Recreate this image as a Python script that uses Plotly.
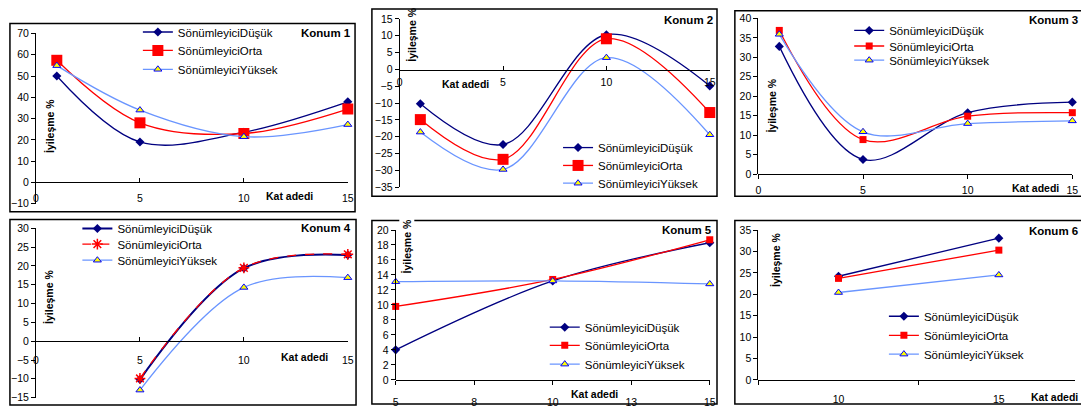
import plotly.graph_objects as go

W, H = 1081, 414

# ---------------- data ----------------
names = ["SönümleyiciDüşük", "SönümleyiciOrta", "SönümleyiciYüksek"]
x_kat = [1, 5, 10, 15]
x_kat4 = [5, 10, 15]
x_kat5 = [5, 10, 15]
x_kat6 = ["10", "15"]

p1_dusuk = [50, 19, 23.6, 37.9]
p1_orta = [57.4, 28, 23, 34.5]
p1_yuksek = [54.9, 34, 21.5, 27.2]

p2_dusuk = [-10.2, -22.3, 10.3, -4.9]
p2_orta = [-14.9, -26.7, 9.1, -12.8]
p2_yuksek = [-18.6, -29.7, 3.5, -19.4]

p3_dusuk = [32.8, 3.8, 15.8, 18.5]
p3_orta = [36.9, 8.9, 14.9, 15.8]
p3_yuksek = [35.9, 10.9, 13.0, 13.7]

p4_dusuk = [-10.2, 19.4, 22.9]
p4_orta = [-9.9, 19.5, 23.1]
p4_yuksek = [-13.0, 14.3, 16.9]

p5_dusuk = [4.0, 13.2, 18.3]
p5_orta = [9.8, 13.4, 18.7]
p5_yuksek = [13.1, 13.2, 12.8]

p6_dusuk = [24.2, 33.1]
p6_orta = [23.7, 30.3]
p6_yuksek = [20.4, 24.5]

x_title = "Kat adedi"
y_title = "İyileşme %"

# ---------------- helpers ----------------
def fx(px):
    return px / W

def fy(py):
    return 1 - py / H

FONT = "Arial, Liberation Sans, sans-serif"
NAVY = "#000080"
RED = "#FF0000"
BLUE = "#6A95FF"

fig = go.Figure()

# panel geometry in pixels
panels = [
    dict(xr=[0, 15], xpx=[33.3, 347.7], yr=[-10, 70], ypx=[203.6, 28.3], axis_py=181.7, dtick=10, xticks="inside", so=6),
    dict(xr=[0, 15], xpx=[400, 712.7], yr=[-35, 15], ypx=[186.7, 13.3], axis_py=65.5, dtick=5, xticks="inside", so=3),
    dict(xr=[0, 15], xpx=[761.7, 1078.3], yr=[0, 40], ypx=[173.3, 12.7], axis_py=173.3, dtick=5, xticks="outside", so=2),
    dict(xr=[0, 15], xpx=[33.3, 347.7], yr=[-15, 30], ypx=[403.3, 229], axis_py=345, dtick=5, xticks="inside", so=9),
    dict(xr=[5, 15], xpx=[396, 712.7], yr=[0, 20], ypx=[385, 230.7], axis_py=385, dtick=2, xticks="outside", so=9),
    dict(xr=[-0.5, 1.475], xpx=[761.7, 1081], yr=[0, 35], ypx=[385, 230.7], axis_py=385, dtick=5, xticks="outside", so=10),
]

layout_axes = {}
for i, p in enumerate(panels, start=1):
    xs = "" if i == 1 else str(i)
    xa = dict(
        domain=[fx(p["xpx"][0]), fx(p["xpx"][1])],
        range=p["xr"],
        anchor="free",
        position=fy(p["axis_py"]),
        showline=True, linecolor="black", linewidth=1,
        ticks=p["xticks"], ticklen=4, tickcolor="black", tickwidth=1,
        ticklabelstandoff=p["so"],
        showgrid=False, zeroline=False,
        tickfont=dict(family=FONT, size=10.5, color="black"),
    )
    if i in (1, 2, 3, 4):
        xa.update(tickvals=[0, 5, 10, 15], ticktext=["0", "5", "10", "15"])
    if i == 5:
        xa.update(tickvals=[5, 7.5, 10, 12.5, 15], ticktext=["5", "8", "10", "13", "15"])
    if i == 6:
        xa.update(type="category", tickson="boundaries", categoryorder="array", categoryarray=x_kat6)
    ya = dict(
        domain=[fy(p["ypx"][0]), fy(p["ypx"][1])],
        range=p["yr"],
        anchor="x" + xs,
        showline=True, linecolor="black", linewidth=1,
        ticks="outside", ticklen=4, tickcolor="black", tickwidth=1,
        showgrid=False, zeroline=False, dtick=p["dtick"], tick0=0,
        tickfont=dict(family=FONT, size=10.5, color="black"),
    )
    layout_axes["xaxis" + xs] = xa
    layout_axes["yaxis" + xs] = ya

# legend item positions (text start x, centre y) in pixels
leg_pos = {
    1: (177, [28.3, 47.3, 66.7]),
    2: (600.7, [147.3, 165.7, 184]),
    3: (894.3, [26.7, 42.7, 57.3]),
    4: (116, [230.7, 246.7, 263.3]),
    5: (587.3, [332.3, 351, 370.3]),
    6: (929.3, [321, 340.7, 360]),
}

legends = {}
leg_counter = [0]

def new_legend(panel, k):
    leg_counter[0] += 1
    n = leg_counter[0]
    key = "legend" if n == 1 else "legend%d" % n
    tx, ys = leg_pos[panel]
    legends[key] = dict(
        x=fx(tx - 41), xanchor="left", y=fy(ys[k] - 1.5), yanchor="middle",
        bgcolor="rgba(0,0,0,0)", borderwidth=0,
        font=dict(family=FONT, size=11.5, color="black"),
        itemclick=False, itemdoubleclick=False,
    )
    return key

def add(panel, x, y, k, shape="spline", big_square=False, dashed=False, asterisk=False, thick=False):
    xs = "" if panel == 1 else str(panel)
    if k == 0:
        line = dict(color=NAVY, width=2 if thick else 1.3, shape=shape, smoothing=1)
        marker = dict(symbol="diamond", size=7, color=NAVY)
    elif k == 1:
        line = dict(color=RED, width=1.3, shape=shape, smoothing=1, dash="dash" if dashed else "solid")
        if asterisk:
            marker = dict(symbol="asterisk-open", size=9, color=RED, line=dict(color=RED, width=1.5))
        else:
            marker = dict(symbol="square", size=11 if big_square else 7, color=RED)
    else:
        line = dict(color=BLUE, width=1.3, shape=shape, smoothing=1)
        marker = dict(symbol="triangle-up", size=7, color="#FFFF00", line=dict(color="#0000FF", width=1))
    fig.add_trace(go.Scatter(
        x=x, y=y, name=names[k], mode="lines+markers", line=line, marker=marker,
        xaxis="x" + xs, yaxis="y" + xs, legend=new_legend(panel, k), cliponaxis=False,
    ))

for k, ys in enumerate([p1_dusuk, p1_orta, p1_yuksek]):
    add(1, x_kat, ys, k, big_square=True)
for k, ys in enumerate([p2_dusuk, p2_orta, p2_yuksek]):
    add(2, x_kat, ys, k, big_square=True)
for k, ys in enumerate([p3_dusuk, p3_orta, p3_yuksek]):
    add(3, x_kat, ys, k)
for k, ys in enumerate([p4_dusuk, p4_orta, p4_yuksek]):
    add(4, x_kat4, ys, k, dashed=True, asterisk=True, thick=True)
for k, ys in enumerate([p5_dusuk, p5_orta, p5_yuksek]):
    add(5, x_kat5, ys, k)
for k, ys in enumerate([p6_dusuk, p6_orta, p6_yuksek]):
    add(6, x_kat6, ys, k, shape="linear")

# ---------------- annotations ----------------
ann = []
def text(x, y, s, size=10.5, bold=True, angle=0, xanchor="center", bg=None):
    d = dict(x=fx(x), y=fy(y), xref="paper", yref="paper", text=("<b>%s</b>" % s) if bold else s,
             showarrow=False, xanchor=xanchor, yanchor="middle", textangle=angle,
             font=dict(family=FONT, size=size, color="black"))
    if bg:
        d["bgcolor"] = bg
    ann.append(d)

# Konum titles
text(353, 28, "Konum 1", size=11.5, xanchor="right")
text(718, 14, "Konum 2", size=11.5, xanchor="right")
text(1033, 14, "Konum 3", size=11.5, xanchor="left")
text(353, 229, "Konum 4", size=11.5, xanchor="right")
text(717, 231, "Konum 5", size=11.5, xanchor="right")
text(1033, 232, "Konum 6", size=11.5, xanchor="left")

# x titles
text(289, 196, x_title)
text(466, 80, x_title)
text(1041, 187, x_title)
text(304, 361, x_title)
text(596, 400, x_title)
text(1035, 403, x_title, xanchor="left")

# y titles
text(48, 124, y_title, angle=-90)
text(413, 30, y_title, angle=-90)
text(775, 103, y_title, angle=-90)
text(47, 300, y_title, angle=-90)
text(407, 248, y_title, angle=-90, bg="white")
text(780, 262, y_title, angle=-90)

# ---------------- panel borders ----------------
shapes = []
for (x0, y0, x1, y1) in [(7, 18, 355, 212), (372, 3, 720, 196), (738, 5, 1090, 196),
                         (7, 220, 356, 411), (372, 221, 720, 410), (738, 221, 1090, 410)]:
    shapes.append(dict(type="rect", xref="paper", yref="paper", x0=fx(x0), x1=fx(x1), y0=fy(y0), y1=fy(y1),
                       line=dict(color="black", width=1.5), fillcolor="rgba(0,0,0,0)", layer="below"))

fig.update_layout(
    width=W, height=H, margin=dict(l=0, r=0, t=0, b=0),
    paper_bgcolor="white", plot_bgcolor="white",
    font=dict(family=FONT, size=10.5, color="black"),
    annotations=ann, shapes=shapes, showlegend=True,
    **layout_axes, **legends,
)

fig.write_html("out.html", include_plotlyjs=True, full_html=True,
               config={"displayModeBar": False},
               post_script="document.body.style.margin='0';document.body.style.overflow='hidden';")
